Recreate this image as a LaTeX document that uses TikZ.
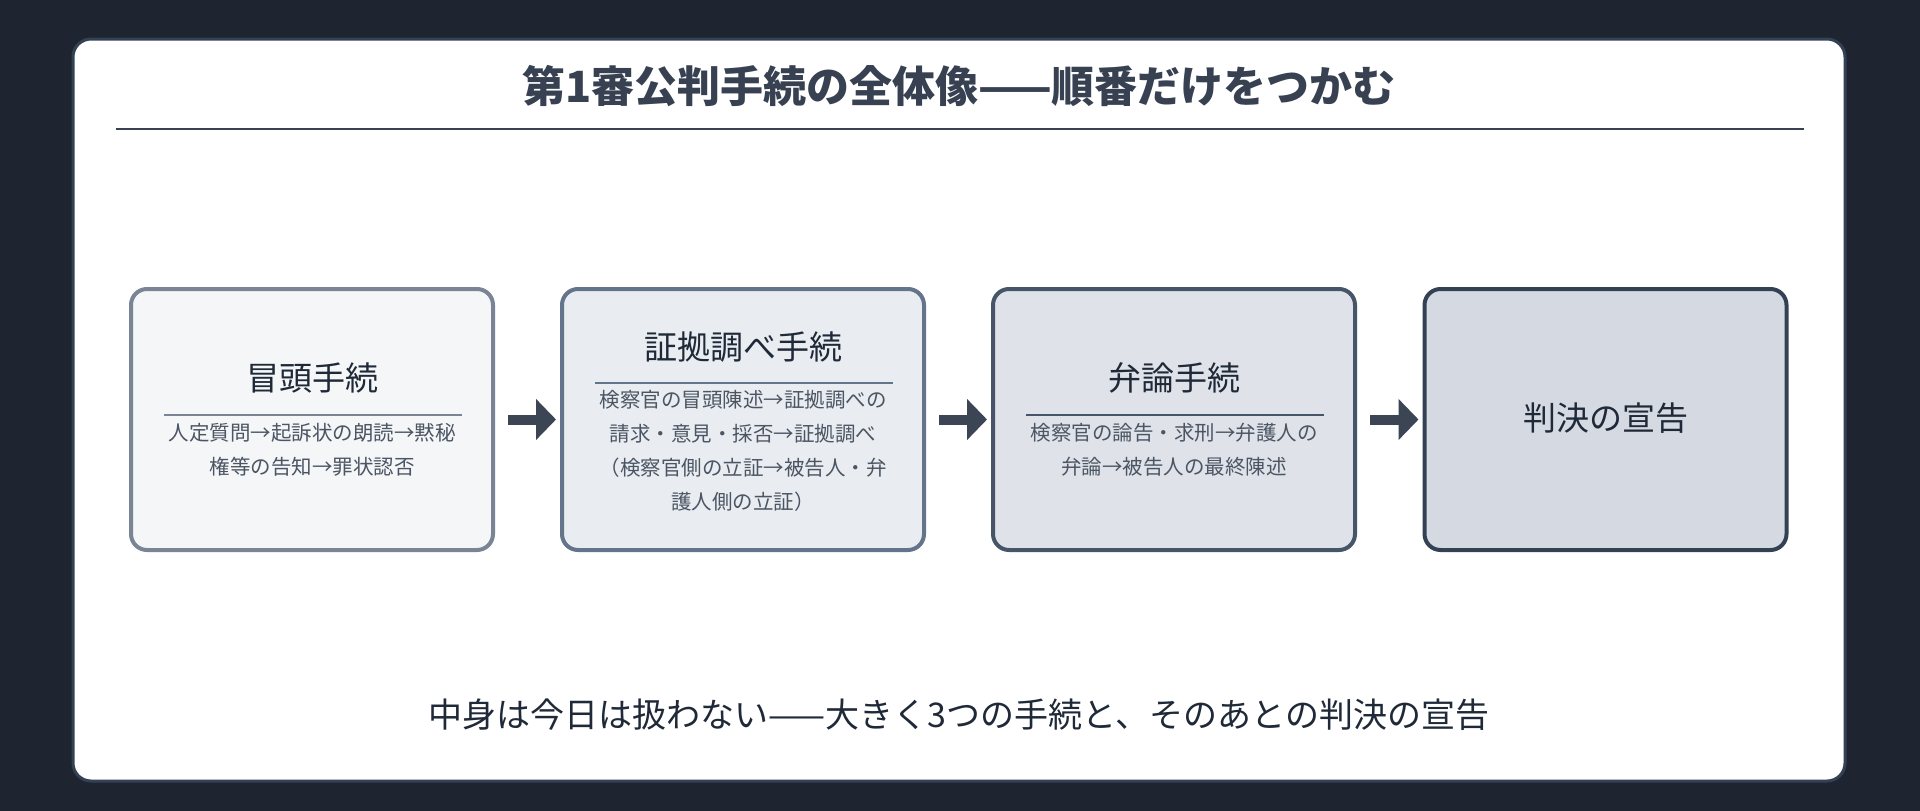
\documentclass[tikz,border=0pt]{standalone}
\usepackage{fontspec}
\setmainfont{Noto Sans CJK JP}
\usetikzlibrary{arrows.meta}
\definecolor{bg}{HTML}{1E2530}
\definecolor{cardb}{HTML}{334155}
\definecolor{ttl}{HTML}{374151}
\definecolor{txt}{HTML}{1F2937}
\definecolor{sub}{HTML}{4B5563}
\definecolor{fa}{HTML}{F4F6F8}\definecolor{ba}{HTML}{7B8494}
\definecolor{fb}{HTML}{E9EDF1}\definecolor{bb}{HTML}{64748B}
\definecolor{fc}{HTML}{DFE3E9}\definecolor{bc}{HTML}{475569}
\definecolor{fd}{HTML}{D5DAE2}\definecolor{bd}{HTML}{334155}
\definecolor{arr}{HTML}{3B4554}
\tikzset{
 box/.style={draw, line width=4pt, rounded corners=16pt, minimum width=362pt, minimum height=261pt, inner sep=0pt},
 head/.style={font=\fontsize{33}{40}\selectfont, text=txt},
 body/.style={font=\fontsize{20.5}{34}\selectfont, text=sub, align=center},
 srule/.style={line width=2.5pt},
 flow/.style={line width=10pt, draw=arr, -{Triangle[length=20pt,width=40pt]}}
}
\begin{document}
\begin{tikzpicture}[x=1pt,y=-1pt]
\useasboundingbox (0,0) rectangle (1920,811);
\fill[bg] (0,0) rectangle (1920,811);
\draw[cardb, fill=white, line width=3pt, rounded corners=18pt] (73,39) rectangle (1845,781);
\node[font=\bfseries\fontsize{43}{50}\selectfont, text=ttl] (title) at (959,86) {第1審公判手続の全体像——順番だけをつかむ};
\draw[ttl, line width=2.5pt] (116,129) -- (1804,129);

\node[box, draw=ba, fill=fa] (b1) at (312,419.5) {};
\node[box, draw=bb, fill=fb] (b2) at (743,419.5) {};
\node[box, draw=bc, fill=fc] (b3) at (1174,419.5) {};
\node[box, draw=bd, fill=fd] (b4) at (1605.5,419.5) {};

\node[head] (h1) at (312,378) {冒頭手続};
\draw[srule, ba] (164,415) -- (462,415);
\node[body, anchor=north] (t1) at (312,420) {人定質問→起訴状の朗読→黙秘\\権等の告知→罪状認否};

\node[head] (h2) at (743,347) {証拠調べ手続};
\draw[srule, bb] (595,383) -- (893,383);
\node[body, anchor=north] (t2) at (743,387) {検察官の冒頭陳述→証拠調べの\\請求・意見・採否→証拠調べ\\（検察官側の立証→被告人・弁\\護人側の立証）};

\node[head] (h3) at (1174,378) {弁論手続};
\draw[srule, bc] (1026,415) -- (1324,415);
\node[body, anchor=north] (t3) at (1174,420) {検察官の論告・求刑→弁護人の\\弁論→被告人の最終陳述};

\node[head] (h4) at (1605.5,418) {判決の宣告};

\draw[flow] (b1.east) ++(13,0) coordinate (a1) -- ([xshift=-4pt]b2.west);
\draw[flow] (b2.east) ++(13,0) coordinate (a2) -- ([xshift=-4pt]b3.west);
\draw[flow] (b3.east) ++(13,0) coordinate (a3) -- ([xshift=-4pt]b4.west);

\node[font=\fontsize{34}{40}\selectfont, text=txt] (foot) at (959,715) {中身は今日は扱わない——大きく3つの手続と、そのあとの判決の宣告};
\end{tikzpicture}
\end{document}
